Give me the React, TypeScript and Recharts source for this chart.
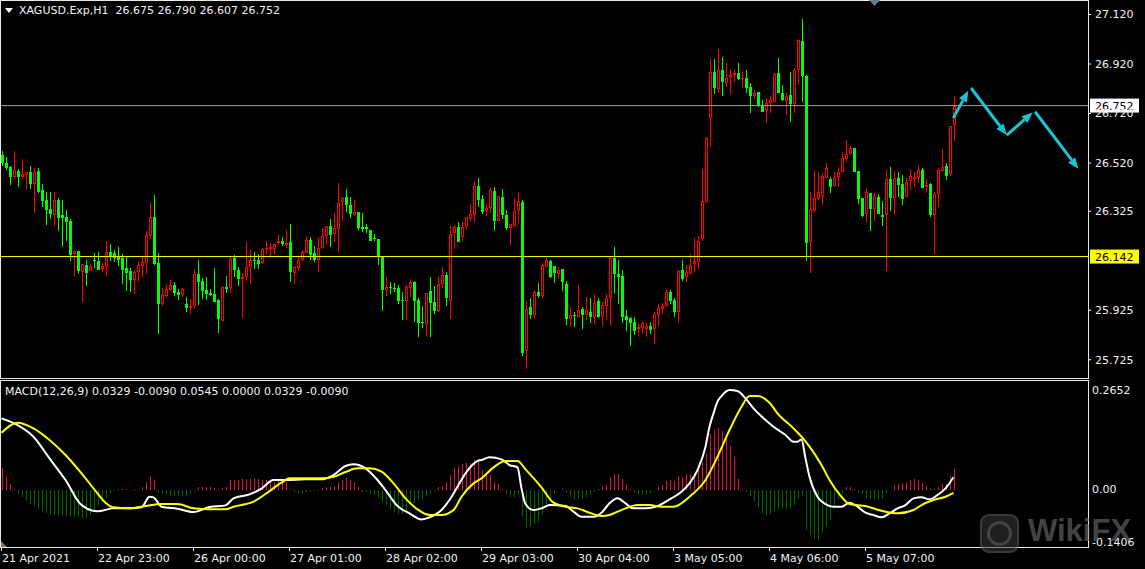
import React from "react";
import { ComposedChart, Bar, Line, XAxis, YAxis, ReferenceLine } from "recharts";

// XAGUSD H1 candles (oldest first)
const opens = [
  26.552, 26.521, 26.502, 26.462, 26.487, 26.462, 26.473, 26.483, 26.436, 26.489,
  26.411, 26.370, 26.334, 26.311, 26.370, 26.310, 26.300, 26.285, 26.153, 26.164,
  26.081, 26.107, 26.082, 26.128, 26.124, 26.093, 26.101, 26.159, 26.155, 26.144,
  26.137, 26.095, 26.083, 26.047, 26.081, 26.105, 26.117, 26.226, 26.300, 26.114,
  25.951, 25.984, 26.006, 26.027, 25.998, 25.986, 25.951, 25.935, 25.942, 26.071,
  26.043, 26.006, 25.996, 25.990, 25.966, 25.882, 26.017, 26.013, 26.136, 26.087,
  26.052, 26.059, 26.101, 26.129, 26.128, 26.114, 26.171, 26.171, 26.171, 26.198,
  26.203, 26.190, 26.200, 26.077, 26.097, 26.130, 26.157, 26.208, 26.155, 26.130,
  26.175, 26.225, 26.265, 26.235, 26.254, 26.363, 26.382, 26.349, 26.310, 26.320,
  26.261, 26.261, 26.249, 26.218, 26.213, 26.144, 26.008, 26.020, 26.015, 26.015,
  25.966, 25.961, 26.016, 26.040, 25.966, 25.878, 25.870, 26.001, 25.958, 25.922,
  26.031, 26.067, 25.963, 26.237, 26.261, 26.222, 26.262, 26.295, 26.311, 26.427,
  26.374, 26.327, 26.340, 26.407, 26.287, 26.382, 26.310, 26.258, 26.266, 26.327,
  26.362, 25.761, 25.938, 25.904, 25.997, 25.984, 26.101, 26.124, 26.103, 26.070,
  26.091, 26.031, 25.891, 25.905, 25.899, 25.930, 25.906, 25.919, 25.899, 25.962,
  25.899, 25.943, 25.976, 26.137, 26.071, 26.063, 25.902, 25.892, 25.879, 25.848,
  25.855, 25.848, 25.861, 25.848, 25.906, 25.929, 25.942, 25.999, 25.966, 25.919,
  26.088, 26.061, 26.074, 26.112, 26.121, 26.211, 26.364, 26.700, 26.888, 26.818,
  26.896, 26.845, 26.866, 26.876, 26.885, 26.862, 26.865, 26.827, 26.792, 26.807,
  26.750, 26.730, 26.761, 26.768, 26.885, 26.801, 26.772, 26.793, 26.758, 26.896,
  27.013, 26.872, 26.202, 26.327, 26.373, 26.384, 26.461, 26.455, 26.428, 26.462,
  26.484, 26.538, 26.556, 26.582, 26.488, 26.377, 26.312, 26.400, 26.333, 26.384,
  26.310, 26.310, 26.454, 26.377, 26.461, 26.436, 26.384, 26.449, 26.457, 26.461,
  26.492, 26.424, 26.435, 26.310, 26.393, 26.488, 26.508, 26.474, 26.675,
];
const highs = [
  26.569, 26.543, 26.508, 26.568, 26.495, 26.536, 26.482, 26.508, 26.499, 26.499,
  26.435, 26.402, 26.402, 26.402, 26.377, 26.370, 26.330, 26.292, 26.168, 26.164,
  26.110, 26.130, 26.110, 26.155, 26.159, 26.117, 26.204, 26.191, 26.168, 26.180,
  26.151, 26.141, 26.094, 26.087, 26.125, 26.141, 26.245, 26.359, 26.390, 26.155,
  26.015, 26.031, 26.047, 26.039, 26.009, 26.016, 25.977, 25.969, 26.091, 26.128,
  26.054, 26.059, 26.010, 26.095, 25.970, 26.023, 26.063, 26.144, 26.147, 26.101,
  26.077, 26.200, 26.168, 26.160, 26.151, 26.178, 26.204, 26.195, 26.194, 26.229,
  26.219, 26.249, 26.273, 26.103, 26.137, 26.168, 26.225, 26.221, 26.184, 26.218,
  26.258, 26.264, 26.293, 26.316, 26.439, 26.384, 26.415, 26.384, 26.370, 26.323,
  26.319, 26.272, 26.249, 26.233, 26.213, 26.144, 26.058, 26.039, 26.036, 26.027,
  25.997, 26.027, 26.051, 26.044, 25.973, 25.942, 25.993, 26.059, 26.023, 26.060,
  26.099, 26.079, 26.265, 26.269, 26.281, 26.280, 26.303, 26.354, 26.447, 26.459,
  26.390, 26.354, 26.420, 26.423, 26.385, 26.415, 26.330, 26.274, 26.377, 26.402,
  26.370, 25.962, 25.974, 26.006, 26.035, 26.114, 26.137, 26.128, 26.103, 26.098,
  26.091, 26.044, 25.938, 25.918, 26.027, 25.939, 25.979, 25.973, 25.989, 25.973,
  25.960, 25.991, 26.144, 26.180, 26.128, 26.088, 25.926, 25.899, 25.899, 25.872,
  25.883, 25.875, 25.879, 25.919, 25.950, 25.953, 26.009, 26.007, 25.973, 26.088,
  26.128, 26.108, 26.152, 26.218, 26.225, 26.496, 26.626, 26.946, 26.939, 26.979,
  26.950, 26.925, 26.900, 26.896, 26.925, 26.893, 26.896, 26.842, 26.815, 26.807,
  26.775, 26.784, 26.791, 26.885, 26.944, 26.835, 26.801, 26.889, 26.902, 27.020,
  27.102, 26.876, 26.404, 26.489, 26.482, 26.476, 26.521, 26.465, 26.485, 26.505,
  26.566, 26.613, 26.589, 26.582, 26.488, 26.377, 26.418, 26.400, 26.397, 26.395,
  26.366, 26.492, 26.505, 26.489, 26.485, 26.471, 26.461, 26.492, 26.485, 26.511,
  26.498, 26.454, 26.440, 26.404, 26.498, 26.576, 26.519, 26.670, 26.790,
];
const lows = [
  26.508, 26.491, 26.431, 26.454, 26.424, 26.454, 26.415, 26.413, 26.319, 26.400,
  26.343, 26.269, 26.293, 26.266, 26.246, 26.182, 26.206, 26.125, 26.064, 26.070,
  25.959, 26.024, 26.082, 26.097, 26.087, 26.081, 26.064, 26.125, 26.121, 26.103,
  26.032, 26.004, 26.000, 25.992, 26.040, 26.060, 26.071, 26.214, 26.107, 25.829,
  25.942, 25.973, 26.001, 25.984, 25.966, 25.978, 25.919, 25.909, 25.936, 25.946,
  25.970, 25.966, 25.984, 25.958, 25.834, 25.881, 25.996, 25.996, 26.058, 26.024,
  25.895, 26.044, 26.032, 26.093, 26.093, 26.111, 26.152, 26.141, 26.152, 26.187,
  26.183, 26.176, 26.040, 26.032, 26.085, 26.125, 26.155, 26.128, 26.120, 26.081,
  26.171, 26.188, 26.182, 26.200, 26.161, 26.283, 26.323, 26.297, 26.306, 26.249,
  26.242, 26.238, 26.206, 26.206, 26.109, 25.923, 25.984, 25.992, 26.000, 25.950,
  25.885, 25.885, 25.980, 25.876, 25.817, 25.852, 25.821, 25.817, 25.909, 25.919,
  26.013, 25.942, 25.889, 26.173, 26.202, 26.204, 26.253, 26.285, 26.283, 26.343,
  26.312, 26.305, 26.319, 26.246, 26.287, 26.292, 26.249, 26.188, 26.262, 26.277,
  25.741, 25.689, 25.891, 25.889, 25.973, 25.973, 26.098, 26.055, 26.036, 26.052,
  26.004, 25.865, 25.858, 25.858, 25.899, 25.849, 25.886, 25.875, 25.869, 25.892,
  25.863, 25.886, 25.865, 25.993, 25.950, 25.875, 25.841, 25.782, 25.825, 25.818,
  25.834, 25.818, 25.828, 25.787, 25.861, 25.910, 25.937, 25.950, 25.899, 25.875,
  26.044, 26.040, 26.067, 26.081, 26.090, 26.206, 26.357, 26.586, 26.797, 26.804,
  26.792, 26.826, 26.797, 26.849, 26.855, 26.824, 26.804, 26.721, 26.777, 26.745,
  26.727, 26.680, 26.721, 26.768, 26.801, 26.772, 26.714, 26.687, 26.721, 26.835,
  26.768, 26.125, 26.074, 26.323, 26.370, 26.350, 26.458, 26.400, 26.424, 26.424,
  26.484, 26.525, 26.552, 26.485, 26.353, 26.300, 26.283, 26.246, 26.287, 26.314,
  26.267, 26.085, 26.327, 26.308, 26.384, 26.350, 26.384, 26.411, 26.424, 26.440,
  26.420, 26.400, 26.300, 26.152, 26.343, 26.488, 26.451, 26.469, 26.607,
];
const closes = [
  26.518, 26.498, 26.464, 26.491, 26.464, 26.475, 26.482, 26.435, 26.483, 26.404,
  26.367, 26.330, 26.314, 26.370, 26.299, 26.297, 26.281, 26.148, 26.164, 26.083,
  26.110, 26.074, 26.103, 26.124, 26.089, 26.103, 26.159, 26.145, 26.137, 26.128,
  26.087, 26.076, 26.047, 26.081, 26.107, 26.118, 26.231, 26.300, 26.111, 25.950,
  25.988, 26.009, 26.027, 25.996, 25.986, 26.009, 25.935, 25.942, 26.071, 26.040,
  26.004, 25.992, 25.988, 25.959, 25.889, 26.017, 26.010, 26.134, 26.089, 26.052,
  26.059, 26.098, 26.128, 26.125, 26.111, 26.172, 26.175, 26.180, 26.192, 26.203,
  26.192, 26.195, 26.081, 26.099, 26.130, 26.160, 26.208, 26.148, 26.129, 26.175,
  26.225, 26.264, 26.230, 26.257, 26.358, 26.378, 26.351, 26.314, 26.322, 26.257,
  26.253, 26.253, 26.206, 26.214, 26.144, 26.006, 26.017, 26.017, 26.010, 25.962,
  25.963, 26.020, 26.039, 25.962, 25.874, 25.874, 25.993, 25.955, 25.922, 26.031,
  26.066, 25.975, 26.235, 26.261, 26.202, 26.261, 26.300, 26.312, 26.427, 26.370,
  26.323, 26.340, 26.411, 26.287, 26.385, 26.310, 26.258, 26.272, 26.326, 26.365,
  25.753, 25.932, 25.905, 25.997, 25.984, 26.107, 26.128, 26.060, 26.074, 26.087,
  26.040, 25.891, 25.904, 25.900, 25.928, 25.906, 25.926, 25.899, 25.953, 25.899,
  25.946, 25.973, 26.137, 26.071, 26.061, 25.899, 25.886, 25.875, 25.841, 25.857,
  25.872, 25.861, 25.845, 25.910, 25.933, 25.942, 25.999, 25.962, 25.919, 26.084,
  26.051, 26.081, 26.108, 26.124, 26.205, 26.366, 26.622, 26.888, 26.822, 26.896,
  26.849, 26.862, 26.876, 26.885, 26.859, 26.865, 26.824, 26.792, 26.801, 26.750,
  26.727, 26.764, 26.775, 26.880, 26.801, 26.775, 26.791, 26.758, 26.896, 27.017,
  26.872, 26.198, 26.334, 26.379, 26.401, 26.467, 26.498, 26.424, 26.465, 26.484,
  26.539, 26.556, 26.579, 26.485, 26.374, 26.307, 26.403, 26.333, 26.387, 26.314,
  26.303, 26.454, 26.380, 26.461, 26.431, 26.373, 26.443, 26.467, 26.465, 26.490,
  26.420, 26.431, 26.310, 26.393, 26.492, 26.502, 26.467, 26.670, 26.752,
];

// MACD histogram, one value per candle
const histValues = [
  0.0563, 0.0339, 0.0143, 0.0020, -0.0125, -0.0196, -0.0304, -0.0393, -0.0447, -0.0509,
  -0.0572, -0.0625, -0.0661, -0.0688, -0.0688, -0.0688, -0.0714, -0.0732, -0.0732, -0.0732,
  -0.0750, -0.0750, -0.0688, -0.0536, -0.0447, -0.0330, -0.0214, -0.0089, -0.0018, 0.0027,
  0.0027, 0.0018, 0.0009, 0.0018, 0.0009, 0.0071, 0.0205, 0.0357, 0.0250, -0.0063,
  -0.0107, -0.0152, -0.0161, -0.0179, -0.0161, -0.0179, -0.0179, -0.0089, -0.0018, 0.0071,
  0.0071, 0.0071, 0.0054, 0.0036, 0.0018, 0.0036, 0.0071, 0.0250, 0.0268, 0.0268,
  0.0286, 0.0286, 0.0286, 0.0304, 0.0286, 0.0268, 0.0250, 0.0232, 0.0205, 0.0250,
  0.0250, 0.0205, 0.0018, -0.0063, -0.0089, -0.0089, -0.0071, -0.0054, -0.0036, -0.0018,
  0.0036, 0.0071, 0.0071, 0.0089, 0.0205, 0.0250, 0.0321, 0.0268, 0.0205, 0.0071,
  -0.0063, -0.0063, -0.0107, -0.0152, -0.0214, -0.0330, -0.0420, -0.0509, -0.0598, -0.0643,
  -0.0643, -0.0598, -0.0393, -0.0357, -0.0286, -0.0268, -0.0179, -0.0089, -0.0018, 0.0054,
  0.0089, 0.0205, 0.0384, 0.0589, 0.0625, 0.0679, 0.0714, 0.0714, 0.0786, 0.0741,
  0.0536, 0.0429, 0.0384, 0.0205, 0.0143, 0.0018, -0.0107, -0.0196, -0.0196, -0.0152,
  -0.0732, -0.1018, -0.1000, -0.0911, -0.0866, -0.0688, -0.0393, -0.0268, -0.0107, 0.0009,
  0.0018, -0.0089, -0.0196, -0.0241, -0.0241, -0.0214, -0.0196, -0.0152, -0.0063, 0.0027,
  0.0054, 0.0116, 0.0339, 0.0429, 0.0429, 0.0286, 0.0116, 0.0018, -0.0063, -0.0152,
  -0.0152, -0.0152, -0.0089, -0.0036, 0.0054, 0.0116, 0.0232, 0.0250, 0.0232, 0.0357,
  0.0339, 0.0411, 0.0411, 0.0447, 0.0536, 0.0741, 0.0982, 0.1500, 0.1607, 0.1661,
  0.1572, 0.1429, 0.1161, 0.0875, 0.0295, 0.0018, -0.0063, -0.0179, -0.0304, -0.0482,
  -0.0625, -0.0670, -0.0643, -0.0554, -0.0509, -0.0509, -0.0509, -0.0509, -0.0420, -0.0241,
  -0.0179, -0.1089, -0.1223, -0.1313, -0.1340, -0.1161, -0.1000, -0.0822, -0.0509, -0.0241,
  -0.0107, 0.0054, 0.0071, 0.0018, -0.0063, -0.0107, -0.0214, -0.0241, -0.0241, -0.0241,
  -0.0241, -0.0089, 0.0000, 0.0116, 0.0161, 0.0179, 0.0205, 0.0268, 0.0286, 0.0250,
  0.0179, 0.0089, 0.0036, 0.0027, 0.0071, 0.0143, 0.0161, 0.0357, 0.0545,
];

// MACD main line (white), [candle index, value]
const macdPoints: [number, number][] = [
  [0, 0.1906], [4, 0.1727], [8, 0.1415], [12, 0.0834], [16, 0.0254], [20, -0.0416],
  [24, -0.0585], [28, -0.0505], [32, -0.0505], [35, -0.0478], [37, -0.0193], [38, -0.021],
  [40, -0.046], [44, -0.0514], [48, -0.0603], [52, -0.0469], [56, -0.0425], [58, -0.0237],
  [62, -0.013], [65, 0.0022], [68, 0.0254], [71, 0.0254], [76, 0.0272], [80, 0.0272],
  [83, 0.0388], [86, 0.0629], [88, 0.0674], [91, 0.0567], [94, 0.0254], [96, -0.0014],
  [99, -0.0443], [102, -0.0639], [105, -0.08], [107, -0.0746], [110, -0.055], [112, -0.0282],
  [114, 0.0075], [116, 0.0433], [119, 0.0763], [120, 0.079], [122, 0.0861], [125, 0.0808],
  [127, 0.0656], [129, 0.0593], [130, 0.0031], [131, -0.0389], [133, -0.055], [135, -0.0505],
  [137, -0.0416], [141, -0.0443], [143, -0.0594], [145, -0.0728], [148, -0.0728], [150, -0.0621],
  [152, -0.0371], [154, -0.0237], [156, -0.0371], [158, -0.0505], [161, -0.0505], [164, -0.0443],
  [167, -0.0264], [170, -0.0059], [172, 0.0165], [174, 0.0522], [176, 0.1147], [177, 0.1683],
  [178, 0.204], [179, 0.2353], [180, 0.2504], [182, 0.2665], [184, 0.2638], [186, 0.2442],
  [188, 0.2174], [191, 0.1861], [193, 0.1683], [196, 0.146], [198, 0.1281], [199, 0.1281],
  [200, 0.1343], [201, 0.0834], [202, 0.0343], [204, -0.0193], [206, -0.0389], [208, -0.046],
  [210, -0.046], [212, -0.0353], [214, -0.046], [216, -0.0621], [218, -0.0684], [220, -0.0746],
  [222, -0.0639], [224, -0.0505], [226, -0.0416], [228, -0.0237], [230, -0.021], [232, -0.0264],
  [234, -0.0148], [236, 0.0031], [238, 0.0329],
];

// MACD signal line (yellow), [candle index, value]
const signalPoints: [number, number][] = [
  [0, 0.1522], [4, 0.179], [8, 0.1638], [12, 0.1326], [16, 0.0924], [20, 0.0433],
  [24, -0.0103], [26, -0.0353], [28, -0.0478], [32, -0.0505], [36, -0.0443], [40, -0.0389],
  [44, -0.0389], [48, -0.0505], [52, -0.0532], [56, -0.0532], [58, -0.046], [63, -0.0326],
  [66, -0.0121], [70, 0.0183], [72, 0.0299], [80, 0.0299], [83, 0.0343], [86, 0.0468],
  [89, 0.0567], [92, 0.0567], [95, 0.0477], [98, 0.0165], [101, -0.0237], [104, -0.0532],
  [107, -0.0684], [110, -0.0684], [113, -0.055], [115, -0.0193], [118, 0.0165], [120, 0.0299],
  [123, 0.0593], [126, 0.0763], [129, 0.0763], [131, 0.054], [135, 0.0058], [138, -0.0353],
  [141, -0.046], [144, -0.0505], [147, -0.0621], [150, -0.071], [152, -0.0684], [154, -0.0594],
  [156, -0.0505], [159, -0.0416], [162, -0.0416], [165, -0.046], [168, -0.046], [172, -0.0193],
  [176, 0.0254], [179, 0.0879], [182, 0.1593], [185, 0.2219], [187, 0.2504], [189, 0.2504],
  [192, 0.2326], [194, 0.204], [198, 0.1638], [200, 0.1415], [202, 0.1147], [205, 0.0656],
  [207, 0.0254], [210, -0.0193], [212, -0.0389], [216, -0.0443], [220, -0.0568], [224, -0.0639],
  [228, -0.055], [230, -0.0416], [233, -0.0282], [236, -0.0193], [238, -0.009],
];

const priceTicks = [27.12, 26.92, 26.72, 26.52, 26.325, 25.925, 25.725];
const macdTicks = [0.2652, 0, -0.1406];
const macdTickLabels = ["0.2652", "0.00", "-0.1406"];
const timeTickIdx = [0, 24, 48, 72, 96, 120, 144, 168, 192, 216];
const timeLabels = [
  "21 Apr 2021", "22 Apr 23:00", "26 Apr 00:00", "27 Apr 01:00", "28 Apr 02:00",
  "29 Apr 03:00", "30 Apr 04:00", "3 May 05:00", "4 May 06:00", "5 May 07:00",
];
const lastPrice = 26.752;
const levelPrice = 26.142;
// hand drawn forecast zigzag: [from, to] in (candle index, price)
const forecastArrows: [[number, number], [number, number]][] = [
  [[237.95, 26.702], [241.7, 26.812]],
  [[242.4, 26.823], [251.3, 26.633]],
  [[251.3, 26.633], [257.8, 26.724]],
  [[258.4, 26.727], [269.2, 26.497]],
];

const BULL = "#ff0000";
const BEAR = "#00ff00";
const HIST_UP = "#dc143c";
const HIST_DN = "#006400";
const CYAN = "#1ec3d3";
const TXT = "#f2f2f2";
const FONT = "'DejaVu Sans', Verdana, sans-serif";
const X_DOMAIN: [number, number] = [-0.375, 271.625];

const candleData = opens.map((o, i) => ({
  i,
  open: o,
  high: highs[i],
  low: lows[i],
  close: closes[i],
  range: [lows[i], highs[i]],
}));
const histData = histValues.map((v, i) => ({ i, hist: v }));
const macdData = macdPoints.map(([i, v]) => ({ i, v }));
const signalData = signalPoints.map(([i, v]) => ({ i, v }));

function renderCandle(props: any) {
  const { x, y, width, height, payload } = props;
  if (x == null || !payload) return <g />;
  const { open, close, high, low } = payload;
  const top = Math.min(y, y + height);
  const h = Math.abs(height);
  const k = h / Math.max(high - low, 1e-6);
  const yOf = (p: number) => top + (high - p) * k;
  const col = Math.floor(x + width / 2 + 1e-6);
  const up = close >= open;
  const color = up ? BULL : BEAR;
  const bTop = Math.round(yOf(Math.max(open, close)));
  const bBot = Math.round(yOf(Math.min(open, close)));
  const bh = Math.max(1, bBot - bTop);
  return (
    <g>
      <line x1={col + 0.5} x2={col + 0.5} y1={Math.round(top)} y2={Math.round(top + h)} stroke={color} />
      {up && bh > 2 ? (
        <rect x={col - 0.5} y={bTop + 0.5} width={2} height={bh - 1} fill="#000" stroke={color} />
      ) : (
        <rect x={col - 1} y={bTop} width={3} height={bh} fill={color} />
      )}
    </g>
  );
}

// 1px histogram bar snapped to the candle column
function renderHist(props: any) {
  const { x, y, width, height, payload } = props;
  if (x == null || !payload || Math.abs(height) < 0.5) return <g />;
  const col = Math.floor(x + width / 2 + 1e-6);
  const top = Math.round(Math.min(y, y + height));
  const bottom = Math.round(Math.max(y, y + height));
  return (
    <rect x={col} y={top} width={1} height={Math.max(1, bottom - top)} fill={payload.hist >= 0 ? HIST_UP : HIST_DN} />
  );
}

function Arrow(props: any) {
  const { x1, y1, x2, y2 } = props;
  const a = Math.atan2(y2 - y1, x2 - x1);
  const len = 11;
  const half = 4.5;
  const bx = x2 - len * Math.cos(a);
  const by = y2 - len * Math.sin(a);
  const px = -Math.sin(a) * half;
  const py = Math.cos(a) * half;
  return (
    <g>
      <line x1={x1} y1={y1} x2={bx} y2={by} stroke={CYAN} strokeWidth={3} />
      <polygon points={`${x2},${y2} ${bx + px},${by + py} ${bx - px},${by - py}`} fill={CYAN} />
    </g>
  );
}

function PriceTag(props: any) {
  const { viewBox, text, bg } = props;
  if (!viewBox) return null;
  const x = viewBox.x + viewBox.width + 2;
  const y = viewBox.y;
  return (
    <g>
      <rect x={x} y={y - 7} width={49} height={14} fill={bg} />
      <text x={x + 5} y={y} dy="0.36em" fontSize={11} fontFamily={FONT} fill="#000">
        {text}
      </text>
    </g>
  );
}

function TimeTick(props: any) {
  const { x, y, payload } = props;
  const label = timeLabels[timeTickIdx.indexOf(payload.value)];
  return (
    <text x={x + 0.5} y={y + 1} dy="0.72em" fontSize={11} fontFamily={FONT} fill={TXT}>
      {label}
    </text>
  );
}

export default function App() {
  const last = opens.length - 1;
  const header = `XAGUSD.Exp,H1  ${opens[last].toFixed(3)} ${highs[last].toFixed(3)} ${lows[last].toFixed(3)} ${closes[last].toFixed(3)}`;
  return (
    <div style={{ position: "absolute", left: 0, top: 0, width: 1145, height: 569, background: "#000", overflow: "hidden" }}>
      <div style={{ position: "absolute", left: 0, top: 0 }}>
        <ComposedChart width={1145} height={378} data={candleData} margin={{ top: 0, right: 0, bottom: 0, left: 0 }}>
          <XAxis dataKey="i" type="number" domain={X_DOMAIN} allowDataOverflow hide />
          <YAxis
            orientation="right"
            width={57}
            type="number"
            domain={[25.6513, 27.1786]}
            allowDataOverflow
            ticks={priceTicks}
            interval={0}
            tickFormatter={(v: number) => v.toFixed(3)}
            tick={{ fill: TXT, fontSize: 11, fontFamily: FONT }}
            axisLine={false}
            tickLine={{ stroke: "#fff" }}
            tickSize={3}
            tickMargin={4}
          />
          <Bar dataKey="range" barSize={3} shape={renderCandle} isAnimationActive={false} />
          <ReferenceLine y={levelPrice} stroke="#ffff00" label={<PriceTag text={levelPrice.toFixed(3)} bg="#ffff00" />} />
          <ReferenceLine y={lastPrice} stroke="#a0a0a0" label={<PriceTag text={lastPrice.toFixed(3)} bg="#ffffff" />} />
          {forecastArrows.map(([a, b], k) => (
            <ReferenceLine
              key={k}
              segment={[{ x: a[0], y: a[1] }, { x: b[0], y: b[1] }]}
              ifOverflow="visible"
              shape={Arrow}
            />
          ))}
        </ComposedChart>
      </div>

      <div style={{ position: "absolute", left: 0, top: 381 }}>
        <ComposedChart width={1145} height={188} data={histData} margin={{ top: 0, right: 0, bottom: 0, left: 0 }}>
          <XAxis
            dataKey="i"
            type="number"
            domain={X_DOMAIN}
            allowDataOverflow
            ticks={timeTickIdx}
            interval={0}
            tick={<TimeTick />}
            tickSize={4}
            tickMargin={2}
            axisLine={false}
            tickLine={{ stroke: "#fff" }}
            height={22}
          />
          <YAxis
            orientation="right"
            width={57}
            type="number"
            domain={[-0.154, 0.2907]}
            allowDataOverflow
            ticks={macdTicks}
            interval={0}
            tickFormatter={(v: number) => macdTickLabels[macdTicks.indexOf(v)] ?? String(v)}
            tick={{ fill: TXT, fontSize: 11, fontFamily: FONT }}
            axisLine={false}
            tickLine={false}
            tickSize={0}
            tickMargin={4}
          />
          <Bar dataKey="hist" barSize={1} shape={renderHist} isAnimationActive={false} />
          <Line data={macdData} dataKey="v" type="monotone" stroke="#ffffff" strokeWidth={2} dot={false} isAnimationActive={false} />
          <Line data={signalData} dataKey="v" type="monotone" stroke="#ffff00" strokeWidth={2} dot={false} isAnimationActive={false} />
        </ComposedChart>
      </div>

      <svg width={1145} height={569} style={{ position: "absolute", left: 0, top: 0, pointerEvents: "none" }}>
        <rect x={0.5} y={0.5} width={1088} height={378} fill="none" stroke="#e8e8e8" />
        <rect x={0.5} y={380.5} width={1088} height={167} fill="none" stroke="#e8e8e8" />
        <polygon points="5,8 13,8 9,13" fill="#fff" />
        <polygon points="869,0 880,0 874.5,6" fill="#6c7a8a" />
        <polygon points="1,541 1,547 7,547" fill="#6c7a8a" />
        <g opacity={0.55}>
          <rect x={981} y={515} width={37} height={37} rx={8} fill="#3a3a3a" stroke="#6a6a6a" strokeWidth={2} />
          <circle cx={999.5} cy={533.5} r={11} fill="none" stroke="#7a7a7a" strokeWidth={3} />
          <text x={1028} y={541} fontSize={31} fontWeight="bold" fontFamily="'Liberation Sans', Arial, sans-serif" fill="#7a7a7a">
            WikiFX
          </text>
        </g>
      </svg>

      <div style={{ position: "absolute", left: 19, top: 4, font: `11px ${FONT}`, lineHeight: "13px", color: TXT, whiteSpace: "pre" }}>
        {header}
      </div>
      <div style={{ position: "absolute", left: 5, top: 385, font: `11px ${FONT}`, lineHeight: "13px", color: TXT, whiteSpace: "pre" }}>
        MACD(12,26,9) 0.0329 -0.0090 0.0545 0.0000 0.0329 -0.0090
      </div>
    </div>
  );
}
